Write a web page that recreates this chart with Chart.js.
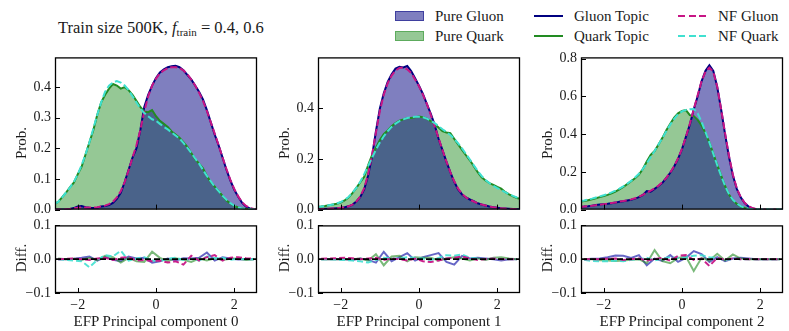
<!DOCTYPE html>
<html>
<head>
<meta charset="utf-8">
<script src="https://cdn.jsdelivr.net/npm/chart.js@4.4.1/dist/chart.umd.min.js"></script>
<style>
  body { margin: 0; background: #fff; width: 789px; height: 331px; position: relative; overflow: hidden;
         font-family: 'Liberation Serif', 'DejaVu Serif', serif; color: #1a1a1a; }
  canvas { position: absolute; }
  .txt { position: absolute; white-space: nowrap; font-size: 15px; line-height: 1; }
  .rot { transform: translate(-50%, -50%) rotate(-90deg); }
  .ctr { transform: translate(-50%, -50%); }
  .key { position: absolute; }
</style>
</head>
<body>
<script>
// bin centres of the density histograms
const xTop = [-2.6,-2.5,-2.4,-2.3,-2.2,-2.1,-2.0,-1.9,-1.8,-1.7,-1.6,-1.5,-1.4,-1.3,-1.2,-1.1,-1.0,-0.9,-0.8,-0.7,-0.6,-0.5,-0.4,-0.3,-0.2,-0.1,
  0,0.1,0.2,0.3,0.4,0.5,0.6,0.7,0.8,0.9,1.0,1.1,1.2,1.3,1.4,1.5,1.6,1.7,1.8,1.9,2.0,2.1,2.2,2.3,2.4,2.5,2.6];
const xDiff = [-2.5,-2.3,-2.1,-1.9,-1.7,-1.5,-1.3,-1.1,-0.9,-0.7,-0.5,-0.3,-0.1,0.1,0.3,0.5,0.7,0.9,1.1,1.3,1.5,1.7,1.9,2.1,2.3,2.5];

// component 0
const gluonPC0 = [0,0,0,0,0.002,0.005,0.01,0.012,0.008,0.006,0.005,0.006,0.01,0.012,0.015,0.022,0.035,0.055,0.09,0.13,0.17,0.2,0.26,0.335,0.375,0.405,
  0.43,0.448,0.458,0.465,0.468,0.47,0.465,0.455,0.44,0.425,0.405,0.385,0.36,0.325,0.285,0.245,0.21,0.17,0.13,0.095,0.065,0.042,0.022,0.01,0.004,0.001,0];
const quarkPC0 = [0.018,0.025,0.04,0.055,0.073,0.088,0.115,0.14,0.18,0.22,0.26,0.31,0.35,0.375,0.395,0.41,0.405,0.395,0.4,0.39,0.375,0.355,0.335,0.32,0.318,0.325,
  0.305,0.29,0.28,0.27,0.255,0.245,0.235,0.22,0.205,0.185,0.165,0.15,0.135,0.11,0.09,0.075,0.06,0.045,0.03,0.02,0.012,0.007,0.004,0.002,0.001,0,0];
const nfGluonPC0 = [0,0,0,0.001,0.002,0.004,0.006,0.007,0.007,0.007,0.007,0.008,0.01,0.013,0.018,0.026,0.04,0.06,0.09,0.128,0.17,0.21,0.26,0.32,0.37,0.405,
  0.428,0.445,0.455,0.462,0.465,0.465,0.462,0.455,0.442,0.425,0.405,0.382,0.355,0.322,0.285,0.248,0.21,0.17,0.132,0.097,0.067,0.043,0.024,0.012,0.005,0.002,0];
const nfQuarkPC0 = [0.018,0.025,0.04,0.055,0.072,0.09,0.115,0.145,0.18,0.22,0.265,0.31,0.35,0.385,0.405,0.415,0.42,0.415,0.405,0.39,0.37,0.35,0.33,0.315,0.305,0.295,
  0.29,0.28,0.27,0.262,0.252,0.242,0.232,0.218,0.202,0.185,0.167,0.15,0.13,0.11,0.092,0.075,0.06,0.045,0.032,0.021,0.013,0.007,0.004,0.002,0.001,0,0];

// component 1
const gluonPC1 = [0.002,0.002,0.003,0.003,0.004,0.005,0.006,0.009,0.013,0.02,0.032,0.05,0.08,0.135,0.21,0.31,0.4,0.46,0.505,0.535,0.558,0.565,0.562,0.568,0.548,0.52,
  0.49,0.458,0.418,0.38,0.335,0.28,0.235,0.19,0.148,0.11,0.08,0.06,0.048,0.04,0.033,0.025,0.02,0.016,0.012,0.009,0.007,0.005,0.004,0.003,0.002,0.001,0.001];
const quarkPC1 = [0.011,0.012,0.014,0.017,0.02,0.023,0.028,0.036,0.048,0.065,0.086,0.108,0.13,0.175,0.215,0.245,0.275,0.298,0.313,0.33,0.342,0.352,0.357,0.362,0.362,0.365,
  0.368,0.365,0.36,0.35,0.338,0.325,0.31,0.305,0.302,0.28,0.258,0.236,0.215,0.195,0.172,0.148,0.128,0.115,0.105,0.098,0.09,0.083,0.07,0.06,0.052,0.046,0.042];
const nfGluonPC1 = [0.001,0.002,0.002,0.003,0.004,0.005,0.007,0.009,0.013,0.02,0.032,0.052,0.085,0.14,0.215,0.305,0.39,0.455,0.5,0.53,0.55,0.56,0.562,0.555,0.54,0.515,
  0.488,0.455,0.418,0.375,0.33,0.282,0.235,0.19,0.148,0.112,0.083,0.062,0.048,0.039,0.032,0.025,0.02,0.016,0.012,0.009,0.007,0.005,0.004,0.003,0.002,0.001,0.001];
const nfQuarkPC1 = [0.01,0.012,0.014,0.017,0.02,0.024,0.03,0.038,0.05,0.066,0.086,0.11,0.14,0.172,0.205,0.237,0.265,0.29,0.31,0.327,0.34,0.35,0.357,0.362,0.365,0.367,
  0.367,0.365,0.36,0.352,0.342,0.33,0.318,0.307,0.295,0.28,0.262,0.242,0.22,0.198,0.175,0.153,0.133,0.117,0.104,0.094,0.085,0.077,0.069,0.061,0.054,0.048,0.043];

// component 2
const gluonPC2 = [0.015,0.016,0.018,0.021,0.024,0.027,0.029,0.031,0.034,0.037,0.041,0.044,0.048,0.052,0.058,0.066,0.078,0.098,0.095,0.11,0.125,0.142,0.168,0.195,0.228,0.27,
  0.32,0.385,0.45,0.53,0.6,0.68,0.735,0.765,0.735,0.65,0.53,0.4,0.28,0.18,0.11,0.065,0.035,0.016,0.006,0.002,0.001,0,0,0,0,0,0];
const quarkPC2 = [0.042,0.045,0.05,0.055,0.06,0.066,0.072,0.078,0.086,0.095,0.107,0.12,0.135,0.15,0.166,0.185,0.215,0.255,0.29,0.31,0.345,0.38,0.42,0.455,0.487,0.51,
  0.522,0.527,0.5,0.495,0.475,0.445,0.405,0.355,0.295,0.237,0.18,0.125,0.08,0.05,0.03,0.017,0.009,0.004,0.002,0.001,0,0,0,0,0,0,0];
const nfGluonPC2 = [0.014,0.016,0.018,0.02,0.023,0.026,0.029,0.032,0.035,0.038,0.042,0.045,0.049,0.054,0.06,0.068,0.078,0.09,0.1,0.112,0.127,0.145,0.168,0.196,0.23,0.272,
  0.322,0.385,0.455,0.53,0.605,0.68,0.73,0.752,0.73,0.65,0.53,0.405,0.285,0.185,0.112,0.066,0.036,0.018,0.008,0.003,0.001,0,0,0,0,0,0];
const nfQuarkPC2 = [0.045,0.048,0.053,0.058,0.064,0.07,0.076,0.083,0.091,0.1,0.111,0.123,0.137,0.152,0.17,0.19,0.215,0.245,0.278,0.31,0.345,0.38,0.415,0.45,0.48,0.505,
  0.52,0.528,0.532,0.533,0.51,0.465,0.41,0.355,0.295,0.235,0.178,0.125,0.082,0.052,0.032,0.018,0.01,0.005,0.002,0.001,0,0,0,0,0,0,0];

// differences to the pure samples (lower panels)
const dGluonTopicPC0 = [0,0,0.001,0.004,0.008,-0.004,0.006,-0.002,-0.006,0.008,0.002,0.004,-0.01,-0.006,0.002,-0.004,0.003,0.002,0.004,0.02,-0.004,0.006,0.002,-0.001,0,0];
const dQuarkTopicPC0 = [0.002,0,0.001,-0.002,0.004,-0.003,0.01,0.006,-0.01,0.004,-0.006,-0.008,0.022,0.004,-0.006,0.003,-0.002,-0.008,0.002,-0.004,0.003,-0.002,0.001,0.002,-0.002,0];
const dNfGluonPC0 = [0,0.001,0.002,0,-0.002,0.002,0.004,-0.002,0.004,0.006,-0.004,-0.002,-0.006,-0.004,-0.01,-0.006,-0.016,0.01,-0.004,0.006,0.012,-0.004,0.004,0.006,0.003,0.002];
const dNfQuarkPC0 = [0,-0.002,-0.004,-0.006,-0.024,-0.002,0.012,0.008,0.025,-0.004,0.002,0.006,-0.004,-0.006,0.002,0.004,-0.002,0.001,-0.004,0.008,0.003,0.004,-0.002,0.001,0,0];

const dGluonTopicPC1 = [0,0,0,0,-0.002,0.002,-0.002,-0.01,0.022,-0.006,0.006,0.018,-0.004,0.006,0.012,0.018,-0.008,-0.016,0.01,0.002,0.004,0.002,0,-0.004,0,0];
const dQuarkTopicPC1 = [0,0,0,0,0,0.002,-0.004,0.015,-0.018,0.008,0.01,-0.006,0.006,0.004,0.004,-0.004,0.002,0.006,0.002,-0.004,0.002,-0.002,0.004,0.006,0.002,0];
const dNfGluonPC1 = [0.001,0.002,0.003,0.004,0.003,0,0.002,0.004,-0.002,0.002,0,-0.004,0.002,-0.006,-0.008,-0.004,0.002,0.004,0.008,0.002,-0.002,0,0.002,0,0,0];
const dNfQuarkPC1 = [0,0,-0.001,-0.002,-0.004,-0.006,-0.01,-0.002,0.004,0.002,0.002,0.006,0.004,0.002,-0.002,0.004,0.012,0.01,0.014,0.004,0.002,0,0.002,0,0,0];

const dGluonTopicPC2 = [0,0.001,0.002,0.006,0.011,0.01,0.004,0.012,-0.018,0.002,-0.005,0.012,-0.008,0.004,0.024,0.015,-0.008,0.006,-0.006,0.002,0.004,0.002,0,0,0,0];
const dQuarkTopicPC2 = [0,0,-0.003,-0.004,-0.005,-0.004,-0.002,0,-0.012,0.027,-0.006,-0.012,0.004,0.008,-0.035,0.004,-0.004,0.016,-0.004,0.014,0.002,0,0,0,0,0];
const dNfGluonPC2 = [0,0,0,0.001,0.002,-0.002,0,0.002,-0.004,0,0.004,-0.004,0.01,0.012,-0.002,0.002,-0.02,0.004,-0.002,0.002,0,0,0,0,0,0];
const dNfQuarkPC2 = [-0.002,-0.005,-0.006,-0.006,-0.004,-0.006,-0.002,0,0.004,-0.004,0.002,0.006,0.004,0.006,0.01,0.012,0.006,0.004,-0.004,0.002,0,0,0,0,0,0];

// ticks and axis limits
const xTicks = [-2, 0, 2];
const probTicks = [[0, 0.1, 0.2, 0.3, 0.4], [0, 0.2, 0.4], [0, 0.2, 0.4, 0.6, 0.8]];
const probMax = [0.497, 0.602, 0.806];
const diffTicks = [-0.1, 0, 0.1];
const xLimits = [-2.58, 2.58];
const xLabels = ['EFP Principal component 0', 'EFP Principal component 1', 'EFP Principal component 2'];

const NAVY = '#000080', GREEN = '#228B22', MAGENTA = '#C71585', TURQ = '#40E0D0';

// layout in page pixels
const PANEL_L = [55, 318, 581], PANEL_W = 202;
const TOP_T = 55, TOP_H = 157, BOT_T = 223, BOT_H = 70;
const AX_W = 45, PAD_T = 10, PAD_R = 6;

Chart.defaults.font.family = "'Liberation Serif', 'DejaVu Serif', serif";
Chart.defaults.font.size = 14;
Chart.defaults.color = '#1a1a1a';

const minus = v => (v < 0 ? '\u2212' : '') + Math.abs(v);
const pts = (xs, ys) => xs.map((x, i) => ({ x: x, y: ys[i] }));

// matplotlib-like frame with inward ticks, plus optional dashed zero line
const framePlugin = {
  id: 'frame',
  afterDatasetsDraw(chart, args, opts) {
    const { ctx, chartArea: a, scales } = chart;
    ctx.save();
    if (opts.zeroLine) {
      const y0 = scales.y.getPixelForValue(0);
      ctx.strokeStyle = '#000';
      ctx.lineWidth = 1.8;
      ctx.setLineDash([6, 3]);
      ctx.beginPath(); ctx.moveTo(a.left, y0); ctx.lineTo(a.right, y0); ctx.stroke();
      ctx.setLineDash([]);
    }
    ctx.strokeStyle = '#000';
    ctx.lineWidth = 1;
    ctx.beginPath();
    scales.x.ticks.forEach(t => {
      const px = Math.round(scales.x.getPixelForValue(t.value)) + 0.5;
      ctx.moveTo(px, a.bottom); ctx.lineTo(px, a.bottom - 5);
    });
    scales.y.ticks.forEach(t => {
      const py = Math.round(scales.y.getPixelForValue(t.value)) + 0.5;
      ctx.moveTo(a.left, py); ctx.lineTo(a.left + 5, py);
    });
    ctx.stroke();
    ctx.lineWidth = 1.3;
    ctx.strokeRect(a.left + 0.5, a.top + 0.5, a.width - 1, a.height - 1);
    ctx.restore();
  }
};

function makeCanvas(left, top, w, h) {
  const c = document.createElement('canvas');
  c.width = w; c.height = h;
  c.style.left = left + 'px'; c.style.top = top + 'px';
  c.style.width = w + 'px'; c.style.height = h + 'px';
  document.body.appendChild(c);
  return c;
}

function addText(html, x, y, cls, size) {
  const d = document.createElement('div');
  d.className = 'txt ' + cls;
  d.style.left = x + 'px'; d.style.top = y + 'px';
  if (size) d.style.fontSize = size + 'px';
  d.innerHTML = html;
  document.body.appendChild(d);
}

function axisOptions(yMin, yMax, yTicks, showX, zeroLine) {
  return {
    responsive: false,
    animation: false,
    events: [],
    layout: { padding: { top: PAD_T, right: PAD_R, left: 0, bottom: 0 } },
    plugins: { legend: { display: false }, tooltip: { enabled: false }, frame: { zeroLine: zeroLine } },
    scales: {
      x: {
        type: 'linear', min: xLimits[0], max: xLimits[1],
        grid: { display: false, drawTicks: false }, border: { display: false },
        ticks: { display: showX, padding: 4, maxRotation: 0, callback: v => minus(v) },
        afterBuildTicks: s => { s.ticks = xTicks.map(v => ({ value: v })); },
        afterFit: s => { s.height = showX ? 22 : 10; }
      },
      y: {
        type: 'linear', min: yMin, max: yMax,
        grid: { display: false, drawTicks: false }, border: { display: false },
        ticks: { padding: 4, callback: v => (v < 0 ? '\u2212' : '') + Math.abs(v).toFixed(1) },
        afterBuildTicks: s => { s.ticks = yTicks.map(v => ({ value: v })); },
        afterFit: s => { s.width = AX_W; }
      }
    }
  };
}

function lineSet(label, xs, ys, color, width, dash, order) {
  return { label: label, data: pts(xs, ys), borderColor: color, borderWidth: width, borderDash: dash || [],
           pointRadius: 0, tension: 0, fill: false, order: order };
}

const topData = [
  [gluonPC0, quarkPC0, nfGluonPC0, nfQuarkPC0],
  [gluonPC1, quarkPC1, nfGluonPC1, nfQuarkPC1],
  [gluonPC2, quarkPC2, nfGluonPC2, nfQuarkPC2]
];
const diffData = [
  [dGluonTopicPC0, dQuarkTopicPC0, dNfGluonPC0, dNfQuarkPC0],
  [dGluonTopicPC1, dQuarkTopicPC1, dNfGluonPC1, dNfQuarkPC1],
  [dGluonTopicPC2, dQuarkTopicPC2, dNfGluonPC2, dNfQuarkPC2]
];

for (let i = 0; i < 3; i++) {
  const [gl, qk, nfg, nfq] = topData[i];
  const cTop = makeCanvas(PANEL_L[i] - AX_W, TOP_T - PAD_T, PANEL_W + AX_W + PAD_R, TOP_H + PAD_T + 10);
  new Chart(cTop, {
    type: 'line',
    data: {
      datasets: [
        { label: 'Pure Quark', data: pts(xTop, qk), borderWidth: 0, pointRadius: 0, tension: 0,
          backgroundColor: 'rgba(34,139,34,0.48)', fill: 'origin', order: 6 },
        { label: 'Pure Gluon', data: pts(xTop, gl), borderWidth: 0, pointRadius: 0, tension: 0,
          backgroundColor: 'rgba(0,0,128,0.5)', fill: 'origin', order: 5 },
        lineSet('Gluon Topic', xTop, gl, NAVY, 2, null, 4),
        lineSet('Quark Topic', xTop, qk, GREEN, 2, null, 3),
        lineSet('NF Gluon', xTop, nfg, MAGENTA, 2, [7, 3], 2),
        lineSet('NF Quark', xTop, nfq, TURQ, 2, [7, 3], 1)
      ]
    },
    options: axisOptions(0, probMax[i], probTicks[i], false, false),
    plugins: [framePlugin]
  });

  const [dg, dq, dnfg, dnfq] = diffData[i];
  const cBot = makeCanvas(PANEL_L[i] - AX_W, BOT_T - PAD_T, PANEL_W + AX_W + PAD_R, BOT_H + PAD_T + 22);
  new Chart(cBot, {
    type: 'line',
    data: {
      datasets: [
        lineSet('Gluon Topic', xDiff, dg, 'rgba(0,0,160,0.6)', 2, null, 4),
        lineSet('Quark Topic', xDiff, dq, 'rgba(34,139,34,0.6)', 2, null, 3),
        lineSet('NF Quark', xDiff, dnfq, 'rgba(64,224,208,0.9)', 2, [6, 3], 2),
        lineSet('NF Gluon', xDiff, dnfg, 'rgba(199,21,133,0.95)', 2, [6, 3], 1)
      ]
    },
    options: axisOptions(diffTicks[0], diffTicks[2], diffTicks, true, true),
    plugins: [framePlugin]
  });

  addText('Prob.', PANEL_L[i] - 34, 143, 'rot');
  addText('Diff.', PANEL_L[i] - 34, BOT_T + BOT_H / 2, 'rot');
  addText(xLabels[i], PANEL_L[i] + PANEL_W / 2, 321, 'ctr');
}

// title
addText('Train size 500K, <i>f</i><sub style="font-size:11px;vertical-align:-3px">train</sub> = 0.4, 0.6', 58, 20, '', 16.5);

// legend: 3 columns x 2 rows
const legendItems = [
  { label: 'Pure Gluon', kind: 'patch', color: 'rgba(0,0,128,0.5)', col: 0, row: 0 },
  { label: 'Pure Quark', kind: 'patch', color: 'rgba(34,139,34,0.48)', col: 0, row: 1 },
  { label: 'Gluon Topic', kind: 'solid', color: NAVY, col: 1, row: 0 },
  { label: 'Quark Topic', kind: 'solid', color: GREEN, col: 1, row: 1 },
  { label: 'NF Gluon', kind: 'dash', color: MAGENTA, col: 2, row: 0 },
  { label: 'NF Quark', kind: 'dash', color: TURQ, col: 2, row: 1 }
];
const keyX = [395, 534, 678], keyW = [29, 29, 28], textX = [435, 574, 718], rowY = [16, 36];
legendItems.forEach(it => {
  const k = document.createElement('div');
  k.className = 'key';
  const cy = rowY[it.row];
  k.style.left = keyX[it.col] + 'px';
  k.style.width = keyW[it.col] + 'px';
  if (it.kind === 'patch') {
    k.style.top = (cy - 5) + 'px'; k.style.height = '10px';
    k.style.background = it.color;
    k.style.boxShadow = 'inset 0 0 0 1px ' + it.color;
  } else if (it.kind === 'solid') {
    k.style.top = (cy - 1) + 'px'; k.style.height = '2px';
    k.style.background = it.color;
  } else {
    k.style.top = (cy - 1) + 'px'; k.style.height = '2px';
    k.style.background = 'repeating-linear-gradient(90deg, ' + it.color + ' 0 7px, transparent 7px 10.5px)';
  }
  document.body.appendChild(k);
  addText(it.label, textX[it.col], cy - 7.5, '');
});
</script>
</body>
</html>
